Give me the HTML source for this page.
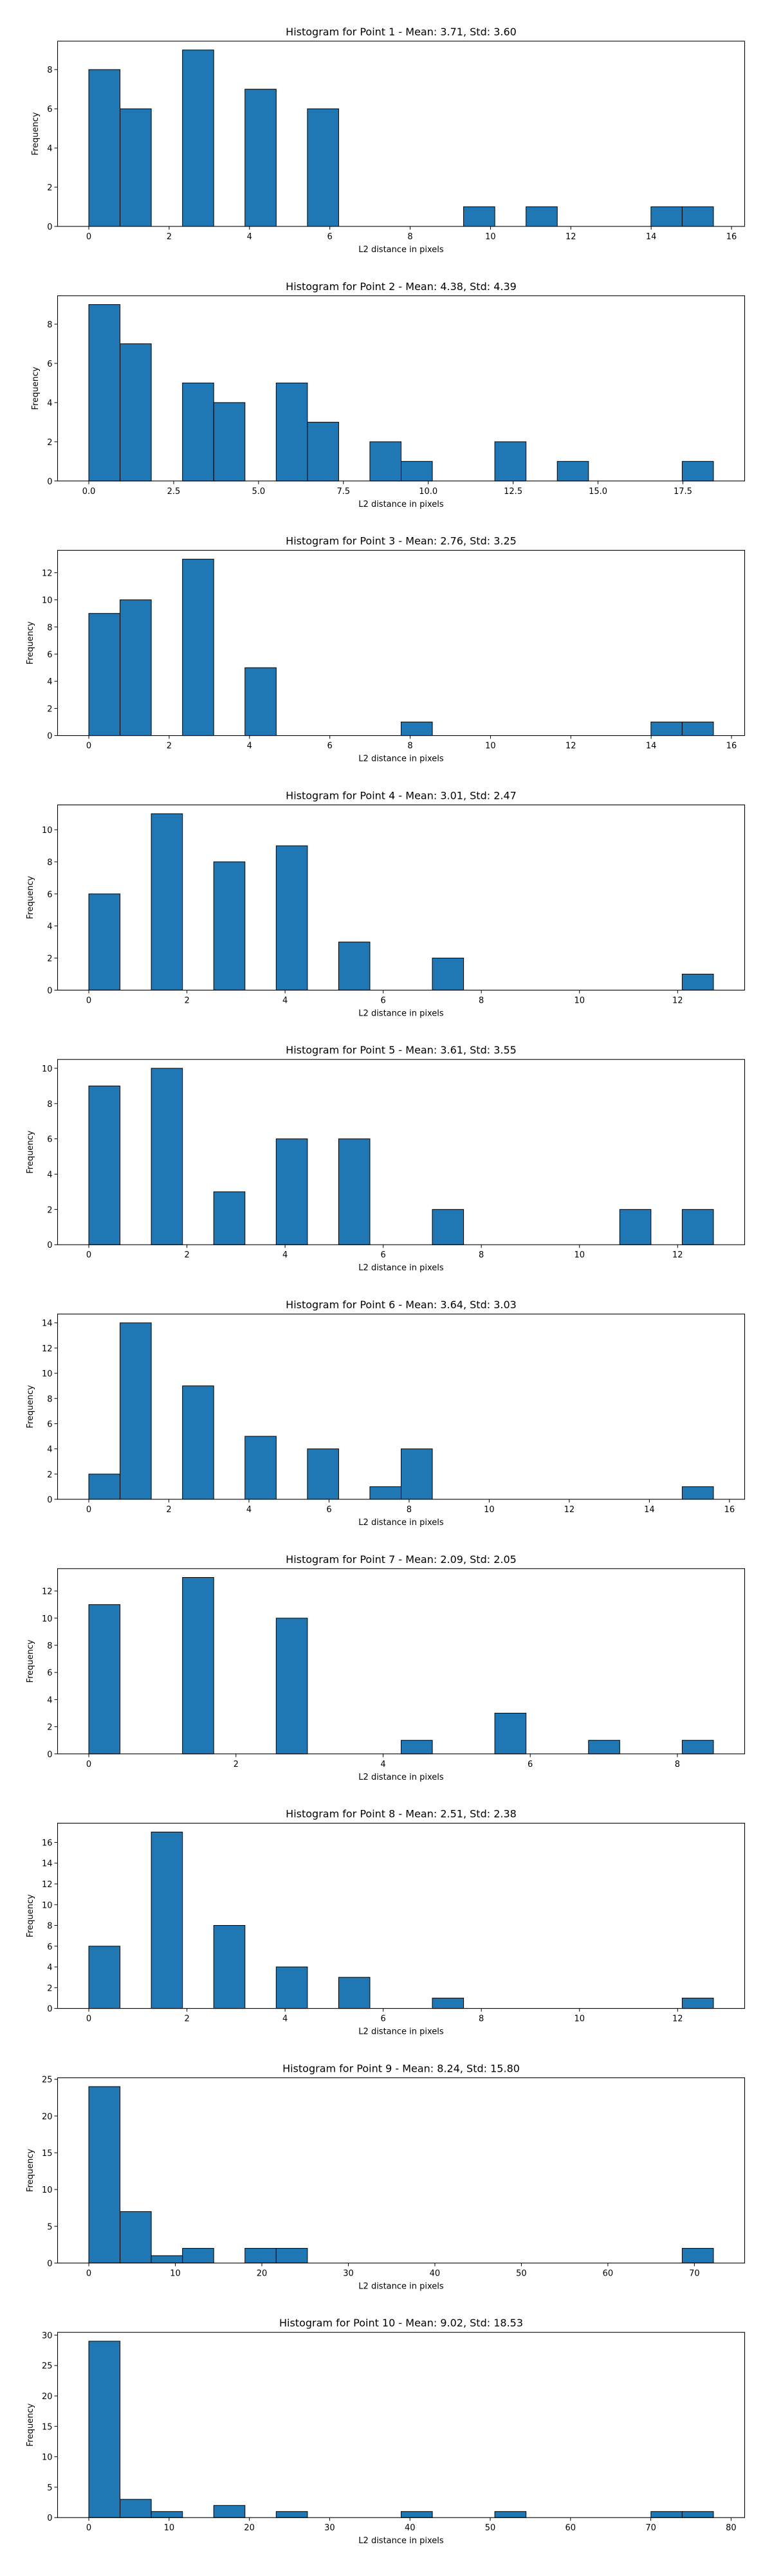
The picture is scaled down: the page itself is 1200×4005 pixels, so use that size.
<!DOCTYPE html>
<html><head><meta charset="utf-8"><style>
html,body{margin:0;padding:0;background:#fff;}
svg text{font-family:"DejaVu Sans","Liberation Sans",sans-serif;fill:#000;}
</style></head><body>
<svg id="fig" width="1200" height="4000" xmlns="http://www.w3.org/2000/svg"></svg>
<script>
const titles = ["Histogram for Point 1 - Mean: 3.71, Std: 3.60","Histogram for Point 2 - Mean: 4.38, Std: 4.39","Histogram for Point 3 - Mean: 2.76, Std: 3.25","Histogram for Point 4 - Mean: 3.01, Std: 2.47","Histogram for Point 5 - Mean: 3.61, Std: 3.55","Histogram for Point 6 - Mean: 3.64, Std: 3.03","Histogram for Point 7 - Mean: 2.09, Std: 2.05","Histogram for Point 8 - Mean: 2.51, Std: 2.38","Histogram for Point 9 - Mean: 8.24, Std: 15.80","Histogram for Point 10 - Mean: 9.02, Std: 18.53"];
const dataMax = [15.55,18.4,15.55,12.73,12.73,15.6,8.49,12.73,72.2,77.8];
const counts1 = [8,6,0,9,0,7,0,6,0,0,0,0,1,0,1,0,0,0,1,1];
const counts2 = [9,7,0,5,4,0,5,3,0,2,1,0,0,2,0,1,0,0,0,1];
const counts3 = [9,10,0,13,0,5,0,0,0,0,1,0,0,0,0,0,0,0,1,1];
const counts4 = [6,0,11,0,8,0,9,0,3,0,0,2,0,0,0,0,0,0,0,1];
const counts5 = [9,0,10,0,3,0,6,0,6,0,0,2,0,0,0,0,0,2,0,2];
const counts6 = [2,14,0,9,0,5,0,4,0,1,4,0,0,0,0,0,0,0,0,1];
const counts7 = [11,0,0,13,0,0,10,0,0,0,1,0,0,3,0,0,1,0,0,1];
const counts8 = [6,0,17,0,8,0,4,0,3,0,0,1,0,0,0,0,0,0,0,1];
const counts9 = [24,7,1,2,0,2,2,0,0,0,0,0,0,0,0,0,0,0,0,2];
const counts10 = [29,3,1,0,2,0,1,0,0,0,1,0,0,1,0,0,0,0,1,1];
const xTicks = [[0,2,4,6,8,10,12,14,16],[0,2.5,5,7.5,10,12.5,15,17.5],[0,2,4,6,8,10,12,14,16],[0,2,4,6,8,10,12],[0,2,4,6,8,10,12],[0,2,4,6,8,10,12,14,16],[0,2,4,6,8],[0,2,4,6,8,10,12],[0,10,20,30,40,50,60,70],[0,10,20,30,40,50,60,70,80]];
const xTickDecimals = [0,1,0,0,0,0,0,0,0,0];
const yTicks = [[0,2,4,6,8],[0,2,4,6,8],[0,2,4,6,8,10,12],[0,2,4,6,8,10],[0,2,4,6,8,10],[0,2,4,6,8,10,12,14],[0,2,4,6,8,10,12],[0,2,4,6,8,10,12,14,16],[0,5,10,15,20,25],[0,5,10,15,20,25,30]];
const allCounts = [counts1,counts2,counts3,counts4,counts5,counts6,counts7,counts8,counts9,counts10];

const NS="http://www.w3.org/2000/svg";
const svg=document.getElementById('fig');
function mk(tag,attrs,parent){const e=document.createElementNS(NS,tag);for(const k in attrs)e.setAttribute(k,attrs[k]);(parent||svg).appendChild(e);return e;}
const L=89.5,R=1157.5,H=288;
for(let p=0;p<10;p++){
  const top=64+395.8*p, bot=top+H;
  const g=mk('g',{});
  
  
  const c=allCounts[p], mx=dataMax[p], n=c.length, bw=mx/n;
  const x0=-0.05*mx, x1=mx*1.05;
  const xs=v=>L+(v-x0)/(x1-x0)*(R-L);
  const ymax=Math.max(...c)*1.05;
  const ys=v=>bot-v/ymax*H;
  const t=mk('text',{x:(L+R)/2,y:top-9,'text-anchor':'middle','font-size':16},g);
  t.textContent=titles[p];
  
  
  for(let i=0;i<n;i++){
    const v=c[i];
    const r=mk('rect',{x:xs(i*bw),y:ys(v),width:xs((i+1)*bw)-xs(i*bw),height:bot-ys(v),fill:'#1f77b4',stroke:'#000','stroke-width':1},g);
    
    
  }
  const fr=mk('rect',{x:L,y:top,width:R-L,height:H,fill:'none',stroke:'#000','stroke-width':1.1},g);
  
  
  xTicks[p].forEach(v=>{
    const x=xs(v);
    mk('line',{x1:x,x2:x,y1:bot,y2:bot+5,stroke:'#000','stroke-width':1},g);
    const tl=mk('text',{x:x,y:bot+20,'text-anchor':'middle','font-size':13},g);
    tl.textContent=v.toFixed(xTickDecimals[p]);
    
    
  });
  yTicks[p].forEach(v=>{
    const y=ys(v);
    mk('line',{x1:L-5,x2:L,y1:y,y2:y,stroke:'#000','stroke-width':1},g);
    const tl=mk('text',{x:L-8,y:y+5,'text-anchor':'end','font-size':13},g);
    tl.textContent=v;
    
    
  });
  const xl=mk('text',{x:(L+R)/2,y:bot+40,'text-anchor':'middle','font-size':13},g);
  xl.textContent='L2 distance in pixels';
  
  
  const yl=mk('text',{x:0,y:0,'text-anchor':'middle','font-size':13,transform:`translate(${p>=2?51:59},${(top+bot)/2}) rotate(-90)`},g);
  yl.textContent='Frequency';
  
  
}
</script>
</body></html>
